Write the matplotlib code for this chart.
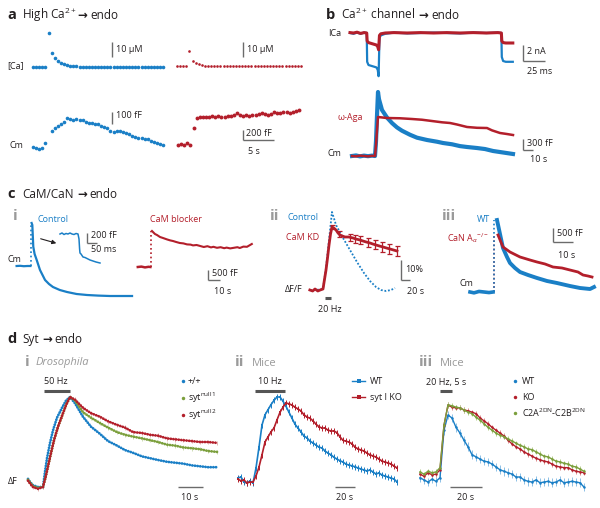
import numpy as np
import matplotlib
matplotlib.use('Agg')
import matplotlib.pyplot as plt

plt.rcParams['font.family'] = ['Open Sans', 'DejaVu Sans']
plt.rcParams['mathtext.fontset'] = 'custom'
plt.rcParams['mathtext.rm'] = 'Open Sans'
plt.rcParams['mathtext.it'] = 'Open Sans:italic'
plt.rcParams['mathtext.bf'] = 'Open Sans:bold'

W, H = 600, 508
BLUE = '#1a7fc6'
RED = '#b31f2b'
GREEN = '#7b9f3c'
GREY = '#9a9a9a'
BAR = '#6b6b6b'

# ---------------- data ----------------
# a : high Ca -> endo  (samples every 0.5 s)
a_dt = 0.5
a_ca_blue = [0.5, 0.4, 0.5, 0.4, 0.5, 23.0, 9.8, 6.5, 4.5, 3.2, 2.2, 1.6, 1.2, 1.0, 0.9, 0.8,
             0.7, 0.7, 0.6, 0.6, 0.6, 0.5, 0.6, 0.5, 0.5, 0.6, 0.5, 0.5, 0.5, 0.6, 0.5, 0.5,
             0.5, 0.4, 0.5, 0.5, 0.6, 0.5, 0.5, 0.4, 0.5, 0.5, 0.6]
a_cm_blue = [8, 0, -8, 0, 42, np.nan, 142, 167, 183, 200, 217, 246, 242, 233, 242, 233, 233,
             217, 208, 208, 200, 200, 183, 171, 167, 142, 133, 142, 142, 133, 125, 117, 100,
             92, 83, 83, 75, 75, 58, 50, 42, 33, 25]
a_ca_red = [1.2, 1.1, 1.2, 1.2, 11.2, 4.5, 3.2, 2.2, 1.8, 1.5, 1.4, 1.3, 1.2, 1.2, 1.3, 1.2,
            1.2, 1.1, 1.2, 1.2, 1.2, 1.1, 1.2, 1.2, 1.2, 1.1, 1.2, 1.2, 1.2, 1.2, 1.1, 1.2,
            1.2, 1.1, 1.2, 1.2, 1.2, 1.1, 1.2, 1.2, 1.1]
a_cm_red = [0, 20, 0, 40, 0, 340, 540, 560, 555, 570, 560, 575, 565, 580, 570, 560, 575, 590,
            600, 640, 610, 590, 600, 585, 610, 600, 620, 640, 615, 600, 630, 660, 650, 640,
            670, 660, 650, 670, 680, 700]

# b : Ca channel -> endo
b_ica_t = [0, 4, 8, 12, 16, 19, 19.5, 21, 24, 27, 30, 31.5, 32.5, 33.5, 35, 40, 50, 65, 80,
           95, 110, 125, 140, 155, 168, 172, 172.5, 174, 177, 181, 185]
b_ica_blue = [0, -0.1, 0.05, -0.1, 0.05, 0, -3.6, -4.0, -4.1, -4.2, -4.3, -4.6, -5.4, -0.6,
              -0.3, -0.1, 0.05, -0.05, 0, 0.05, 0, -0.05, 0.05, 0, 0.05, 0, -3.0, -3.5, -3.6,
              -3.6, -3.6]
b_ica_red = [0.05, 0, 0.1, -0.05, 0.05, 0, -1.0, -1.2, -1.3, -1.4, -1.5, -1.7, -2.1, -0.3,
             -0.1, 0, 0.05, 0, 0.05, 0, 0.05, 0, 0.05, 0, 0.05, 0, -1.0, -1.2, -1.25, -1.25,
             -1.25]
b_cm_blue_t = [0, 4, 8, 12, 16, 20, 23, 24, 25, 26, 27, 30, 35, 40, 45, 50, 58, 65, 75, 85,
               91, 100, 108, 115, 125, 133, 141, 150, 161]
b_cm_blue = [0, 15, -10, 10, -5, 10, 0, 400, 1100, 1747, 1550, 1256, 1050, 900, 780, 690, 580,
             500, 437, 390, 355, 320, 270, 246, 218, 190, 137, 100, 55]
b_cm_red_t = [0, 4, 8, 12, 16, 20, 23, 24, 25, 26, 35, 48, 60, 70, 80, 90, 98, 105, 115, 125,
              135, 140, 148, 155, 161]
b_cm_red = [0, -10, 10, 0, -10, 5, 0, 300, 700, 1065, 1037, 1030, 1010, 990, 955, 920, 901,
            860, 792, 770, 764, 700, 628, 600, 573]

# c i : CaM blocker
ci_blue_base_t = [-12, -9, -6, -3, -0.5]
ci_blue_base = [0, 10, -10, 0, 0]
ci_blue_t = [0.5, 1.1, 1.9, 3, 4.75, 7.5, 11.7, 15, 18.3, 24, 30, 38, 46.7, 56, 65.8, 75, 84.2]
ci_blue = [2150, 2050, 965, 600, 300, -200, -700, -900, -1050, -1200, -1300, -1400, -1450,
           -1480, -1500, -1500, -1500]
ci_inset_t = [-95, -85, -75, -65, -55, -45, -35, -25, -15, -5, 0, 3, 5, 10, 20, 30, 40, 55,
              70, 85, 105]
ci_inset = [0, 20, -10, 10, 0, 20, 0, -10, 10, 0, -100, -300, -380, -400, -460, -470, -490,
            -520, -540, -560, -580]
ci_red_base_t = [-11, -8, -5, -2, -0.5]
ci_red_base = [0, 20, -20, 10, 0]
ci_red_t = [0.8, 3.3, 5, 7.5, 10, 13.3, 16, 18.3, 21, 24, 27, 30, 33, 35, 38, 41, 44, 47, 50,
            52, 55, 58, 61, 63, 66, 69, 72, 74, 77, 80, 82, 84]
ci_red = [1800, 1650, 1600, 1500, 1450, 1380, 1330, 1300, 1250, 1200, 1180, 1130, 1120, 1080,
          1100, 1050, 1000, 1040, 980, 1010, 960, 990, 940, 970, 930, 960, 990, 950, 1020,
          1010, 1080, 1150]

# c ii : CaM KD (dF/F, %)
cii_red_t = [-28, -22, -17, -11, -6, 0, 3, 6.4, 9.6, 12.8, 16, 19.1, 23, 27.7, 32, 36, 41,
             46.8, 55, 63.8, 70, 78.7, 85, 92, 100, 106, 112.8, 120, 127.7, 135, 142.6, 150,
             157.4]
cii_red = [0, -0.5, 0.5, -0.5, 0, 0.5, 5, 10, 16, 22.5, 28, 31.5, 31, 30, 28.5, 27.5, 27,
           26.5, 26.5, 26, 25.5, 25, 24.5, 24, 23.5, 23, 22.5, 22, 21.5, 21, 20.5, 20, 19.5]
cii_err_t = [19, 34, 57, 68, 79, 96, 111, 126, 141, 157]
cii_err_mean = [31.5, 28, 26.3, 25.5, 25, 23.7, 22.6, 21.6, 20.5, 19.5]
cii_err = [1.0, 1.5, 1.8, 2.0, 2.0, 2.2, 2.2, 2.4, 2.4, 2.5]
cii_blue_t = [-28, -15, 0, 6.4, 12.8, 19.1, 27.7, 42.6, 57.4, 72.3, 87.2, 100, 112.8, 123.4,
              134, 144.7, 153.2]
cii_blue = [0, 0, 0.5, 11, 25, 39, 32.5, 26, 20, 14, 8.5, 4.5, 1.5, 0, -0.5, 0, 1]

# c iii : CaN KO (Cm, fF)
ciii_blue_t = [-12, -10, -7.5, -5, -2.5, -0.5, 1.5, 3, 4.5, 6.5, 8, 10.5, 13, 17, 21.5, 26.5,
               31.5, 38, 43, 48, 50]
ciii_blue = [0, -30, 20, 0, -20, 0, 2570, 2070, 1570, 1250, 1035, 857, 714, 607, 500, 393,
             321, 214, 143, 107, 178]
ciii_red_t = [2, 4.5, 8, 13, 18, 21.5, 25.5, 29.5, 34, 38, 42, 44.5, 47, 49]
ciii_red = [2035, 1607, 1428, 1250, 1142, 1071, 1000, 892, 857, 785, 714, 607, 571, 535]

# d i : Drosophila (normalised dF)
di_blue_t = [-6, -5.2, -4, -2, 0, 0.8, 1.6, 2.8, 4, 5.6, 7.6, 9.2, 10.8, 12.8, 16, 19.2, 22.8,
             26, 29.6, 32.8, 36, 39.6, 42.8, 46, 49.6, 52.8, 56, 59.6, 62.8, 66, 69.6]
di_blue = [0.09, 0.055, 0.02, 0, 0, 0.17, 0.32, 0.49, 0.63, 0.77, 0.88, 0.96, 1.0, 0.93, 0.78,
           0.67, 0.59, 0.51, 0.46, 0.41, 0.38, 0.34, 0.32, 0.30, 0.28, 0.27, 0.26, 0.24, 0.23,
           0.22, 0.22]
di_mut_t = [-6, -5.2, -4, -2, 0, 1.2, 2.8, 4.4, 6, 7.6, 9.2, 10.8, 12.8, 16, 19.2, 22.8, 26,
            29.6, 32.8, 36, 39.6, 42.8, 46, 49.6, 52.8, 56, 59.6, 62.8, 66, 69.6]
di_red = [0.07, 0.04, 0.0, -0.02, 0, 0.13, 0.33, 0.52, 0.67, 0.79, 0.91, 1.0, 0.97, 0.88,
          0.82, 0.78, 0.73, 0.69, 0.66, 0.61, 0.60, 0.58, 0.57, 0.54, 0.53, 0.52, 0.51, 0.50,
          0.50, 0.49]
di_green = [0.08, 0.05, 0.01, -0.01, 0, 0.13, 0.33, 0.52, 0.67, 0.79, 0.91, 1.0, 0.96, 0.83,
            0.77, 0.71, 0.66, 0.61, 0.58, 0.56, 0.54, 0.52, 0.50, 0.47, 0.46, 0.44, 0.43,
            0.42, 0.40, 0.39]
di_sem = 0.025

# d ii : mice, syt I KO (normalised dF, 3 s bins)
dii_t = np.arange(-17, 143, 3)
dii_blue = [0.047, 0.059, 0, -0.012, 0.012, -0.012, 0.165, 0.41, 0.67, 0.79, 0.85, 0.91, 0.96,
            1.0, 1.0, 0.95, 0.89, 0.82, 0.75, 0.68, 0.635, 0.59, 0.54, 0.52, 0.48, 0.46,
            0.435, 0.41, 0.40, 0.365, 0.34, 0.32, 0.29, 0.27, 0.25, 0.235, 0.21, 0.2, 0.19,
            0.18, 0.165, 0.153, 0.141, 0.13, 0.141, 0.118, 0.094, 0.106, 0.082, 0.07, 0.059,
            0.047, 0.035, 0]
dii_red = [0.035, 0.012, 0.024, -0.012, 0, 0, 0.07, 0.176, 0.32, 0.47, 0.53, 0.59, 0.635,
           0.73, 0.82, 0.88, 0.93, 0.92, 0.905, 0.88, 0.86, 0.835, 0.79, 0.765, 0.75, 0.72,
           0.68, 0.65, 0.635, 0.635, 0.61, 0.6, 0.6, 0.58, 0.53, 0.49, 0.48, 0.47, 0.45,
           0.41, 0.39, 0.376, 0.365, 0.34, 0.32, 0.306, 0.294, 0.27, 0.247, 0.235, 0.224,
           0.212, 0.188, 0.165]
dii_sem = 0.035

# d iii : mice, C2A/C2B mutant (% of peak, 2.5 s bins)
diii_t = np.arange(-12.5, 90.1, 2.5)
diii_blue = [-1, -4, -7, -3, -6, -1, 65, 86, 82, 69, 61, 51, 42, 31, 28, 25, 22, 21, 18, 14,
             10, 8, 6, 4, 0, 0, -4, -6, -7, -4, -8, -7, -6, -8, -7, -4, -8, -7, -6, -7, -8,
             -14]
diii_red = [4, 1, 6, 3, 4, 10, 72, 100, 97, 96, 96, 93, 92, 90, 88, 82, 78, 74, 69, 65, 61,
            57, 51, 46, 42, 39, 35, 32, 29, 26, 24, 22, 21, 18, 15, 14, 13, 13, 10, 8, 7, 6]
diii_green = [7, 4, 8, 6, 7, 13, 72, 100, 99, 97, 96, 93, 90, 88, 83, 79, 74, 69, 65, 61, 58,
              56, 53, 50, 47, 44, 42, 39, 38, 35, 32, 29, 28, 25, 22, 21, 19, 18, 15, 14, 11,
              8]
diii_sem = 6

# ---------------- figure ----------------
fig = plt.figure(figsize=(6, 5.08), dpi=100)


def mk(x0, sx, y0, sy, box):
    l, r, t, b = box
    ax = fig.add_axes([l / W, 1 - b / H, (r - l) / W, (b - t) / H])
    ax.set_xlim((l - x0) / sx, (r - x0) / sx)
    ax.set_ylim((y0 - b) / sy, (y0 - t) / sy)
    ax.axis('off')
    return ax


def sbar(ax, x, y, dx=None, dy=None, color=BAR, lw=1.0):
    if dy is not None:
        ax.plot([x, x], [y, y + dy], color=color, lw=lw, solid_capstyle='butt')
    if dx is not None:
        ax.plot([x, x + dx], [y, y], color=color, lw=lw, solid_capstyle='butt')


def stim(ax, t0, t1, v):
    ax.plot([t0, t1], [v, v], color='#555555', lw=2.2, solid_capstyle='butt')


# ---- panel a
A1 = mk(33, 6.2, 67.75, 1.5, (25, 170, 25, 75))
A2 = mk(33, 6.2, 148, 0.12, (25, 170, 100, 160))
A3 = mk(177, 6.2, 67.75, 1.5, (172, 305, 25, 75))
A4 = mk(178, 6.2, 145, 0.05, (172, 305, 100, 160))
A1.plot(np.arange(len(a_ca_blue)) * a_dt, a_ca_blue, 'o', color=BLUE, ms=2.6, mew=0)
A2.plot(np.arange(len(a_cm_blue)) * a_dt, a_cm_blue, 'o', color=BLUE, ms=2.6, mew=0)
A3.plot(np.arange(len(a_ca_red)) * a_dt, a_ca_red, 'o', color=RED, ms=1.9, mew=0)
A4.plot(np.arange(len(a_cm_red)) * a_dt, a_cm_red, 'o', color=RED, ms=2.8, mew=0)
sbar(A1, 12.7, 7.2, dy=10)
sbar(A3, 10.6, 7.2, dy=10)
sbar(A2, 12.7, 200, dy=100)
sbar(A4, 10.5, 100, dx=5, dy=200)

# ---- panel b
B1 = mk(350, 0.88, 33, 8, (340, 555, 25, 85))
B2 = mk(352, 1.0, 156, 1 / 27.3, (340, 555, 85, 165))
B1.plot(b_ica_t, b_ica_blue, color=BLUE, lw=1.6)
B1.plot(b_ica_t, b_ica_red, color=RED, lw=2.2)
sbar(B1, 196.6, -3.5, dx=25, dy=2)
B2.plot(b_cm_blue_t, b_cm_blue, color=BLUE, lw=3.0)
B2.plot(b_cm_red_t, b_cm_red, color=RED, lw=1.8)
sbar(B2, 171, 164, dx=10, dy=300)

# ---- panel c i
C1 = mk(31, 1.2, 266, 0.02, (10, 140, 215, 305))
C1.plot(ci_blue_base_t, ci_blue_base, color=BLUE, lw=1.6)
C1.plot([0, 0], [ci_blue_base[-1], ci_blue[0]], color=BLUE, lw=1.2, ls=(0, (1, 1.6)))
C1.plot(ci_blue_t, ci_blue, color=BLUE, lw=1.6)
CI = mk(79, 0.2, 234, 0.05, (55, 105, 225, 270))
CI.plot(ci_inset_t, ci_inset, color=BLUE, lw=1.1)
sbar(CI, 40, -180, dx=50, dy=200)
C2 = mk(151, 1.2, 267, 0.02, (130, 260, 215, 305))
C2.plot(ci_red_base_t, ci_red_base, color=RED, lw=1.8)
C2.plot([0, 0], [ci_red_base[-1], ci_red[0]], color=RED, lw=1.2, ls=(0, (1, 1.6)))
C2.plot(ci_red_t, ci_red, color=RED, lw=1.5)
sbar(C2, 47.5, -650, dx=10, dy=500)

# ---- panel c ii
C3 = mk(323, 0.47, 290, 2, (305, 420, 205, 315))
C3.plot(cii_blue_t, cii_blue, color=BLUE, lw=1.3, ls=(0, (1, 1)))
C3.plot(cii_red_t, cii_red, color=RED, lw=2.0)
C3.errorbar(cii_err_t, cii_err_mean, yerr=cii_err, fmt='none', ecolor=RED, elinewidth=0.9,
            capsize=1.8, capthick=0.9)
sbar(C3, 166, 5, dx=20, dy=10)
stim(C3, 4, 18, -4)

# ---- panel c iii
C4 = mk(494, 2.0, 292, 1 / 35.7, (465, 600, 205, 305))
C4.plot([0.2, 0.2], [0, ciii_red[0]], color=RED, lw=1.2, ls=(0, (1, 1.5)))
C4.plot([-0.2, -0.2], [0, ciii_blue[6]], color=BLUE, lw=1.2, ls=(0, (1, 1.5)))
C4.plot(ciii_blue_t[:6], ciii_blue[:6], color=BLUE, lw=2.6)
C4.plot(ciii_blue_t[6:], ciii_blue[6:], color=BLUE, lw=2.8)
C4.plot(ciii_red_t, ciii_red, color=RED, lw=2.0)
sbar(C4, 29.5, 1785, dx=10, dy=500)

# ---- panel d i
D1 = mk(43, 2.5, 487, 90, (20, 225, 385, 500))
dot = dict(lw=2.0, ls=(0, (0.05, 0.9)), dash_capstyle='round')
D1.errorbar(di_mut_t, di_green, yerr=di_sem, fmt='none', ecolor='#c5d6a6', elinewidth=0.6)
D1.errorbar(di_mut_t, di_red, yerr=di_sem, fmt='none', ecolor='#e0a7a7', elinewidth=0.6)
D1.plot(di_blue_t, di_blue, color=BLUE, **dot)
D1.plot(di_mut_t, di_green, color=GREEN, **dot)
D1.plot(di_mut_t, di_red, color=RED, **dot)
stim(D1, 0.4, 10.8, 1.067)
sbar(D1, 54, 0, dx=10)

# ---- panel d ii
D2 = mk(255, 1.0, 482, 85, (230, 410, 385, 500))
D2.errorbar(dii_t, dii_blue, yerr=dii_sem, color=BLUE, lw=1.2, marker='s', ms=2.0, mew=0,
            elinewidth=0.7, capsize=1.2, capthick=0.7)
D2.errorbar(dii_t, dii_red, yerr=dii_sem, color=RED, lw=1.2, marker='s', ms=2.0, mew=0,
            elinewidth=0.7, capsize=1.2, capthick=0.7)
stim(D2, 0, 30, 1.07)
sbar(D2, 80, -0.06, dx=20)

# ---- panel d iii
D3 = mk(440, 1.6, 477, 0.72, (415, 600, 385, 500))
D3.errorbar(diii_t, diii_blue, yerr=diii_sem, color=BLUE, lw=1.0, marker='o', ms=1.8, mew=0,
            ecolor='#8cc0e6', elinewidth=0.7, capsize=1.0)
D3.errorbar(diii_t, diii_red, yerr=diii_sem * 0.6, color=RED, lw=1.0, marker='o', ms=1.8,
            mew=0, ecolor='#dc8c8c', elinewidth=0.7, capsize=1.0)
D3.errorbar(diii_t, diii_green, yerr=diii_sem * 0.6, color=GREEN, lw=1.0, marker='o',
            ms=1.8, mew=0, ecolor='#b3cc8a', elinewidth=0.7, capsize=1.0)
stim(D3, 0, 7.5, 119.4)
sbar(D3, 6.25, -14, dx=20)

for ax in fig.axes:
    for art in ax.get_children():
        try:
            art.set_clip_on(False)
        except Exception:
            pass

# ---- overlay texts
ov = fig.add_axes([0, 0, 1, 1])
ov.set_xlim(0, W)
ov.set_ylim(H, 0)
ov.axis('off')
ov.patch.set_alpha(0)

INK = '#231f20'


def T(x, y, s, size=6.5, color=INK, ha='left', **kw):
    return ov.text(x, y, s, fontsize=size, color=color, ha=ha, va='center', **kw)


def NUM(x, y, s):
    T(x, y, s, size=11, color=GREY, fontweight='bold')


def title(x, y, letter, first, last, gap=2.5):
    # y is the text baseline in pixels
    ov.text(x, y, letter, fontsize=10.5, fontweight='bold', color=INK, va='baseline')
    t1 = ov.text(x + 15, y, first, fontsize=8.5, color=INK, va='baseline')
    t2 = ov.annotate('→', xy=(1, y), xycoords=(t1, 'data'), xytext=(gap, 0),
                     textcoords='offset points', fontsize=8.5, fontweight='bold',
                     family='DejaVu Sans', color=INK, va='baseline')
    ov.annotate(last, xy=(1, y), xycoords=(t2, 'data'), xytext=(2, 0),
                textcoords='offset points', fontsize=8.5, color=INK, va='baseline')


# a
title(7, 19, 'a', 'High Ca$^{2+}$', 'endo', gap=0.5)
T(7, 66, '[Ca]')
T(9, 146, 'Cm')
T(116, 50, '10 µM')
T(247, 50, '10 µM')
T(116, 116, '100 fF')
T(246, 134, '200 fF')
T(248, 152, '5 s')
# b
title(326, 19, 'b', 'Ca$^{2+}$ channel', 'endo')
T(328, 34, 'ICa')
T(338, 117, 'ω-Aga', color=RED)
T(327, 154, 'Cm')
T(527, 51, '2 nA')
T(527, 71, '25 ms')
T(527, 143, '300 fF')
T(530, 159, '10 s')
# c
title(7, 198, 'c', 'CaM/CaN', 'endo')
NUM(13, 216, 'i')
T(37, 219, 'Control', color=BLUE)
T(150, 219, 'CaM blocker', color=RED)
T(8, 259, 'Cm')
T(91, 236, '200 fF')
T(91, 250, '50 ms')
T(212, 273, '500 fF')
T(214, 292, '10 s')
ov.annotate('', xy=(59, 244), xytext=(38, 238),
            arrowprops=dict(arrowstyle='-|>', color=INK, lw=0.8, mutation_scale=6))
NUM(270, 216, 'ii')
T(288, 218, 'Control', color=BLUE)
T(286, 238, 'CaM KD', color=RED)
T(285, 290, 'ΔF/F')
T(405, 269, '10%')
T(407, 291, '20 s')
T(330, 309, '20 Hz', ha='center')
NUM(442, 216, 'iii')
T(477, 219, 'WT', color=BLUE)
T(447, 238, r'CaN A$_{\alpha}$$^{-/-}$', color=RED)
T(459, 283, 'Cm')
T(557, 234, '500 fF')
T(558, 255, '10 s')
# d
title(7, 343, 'd', 'Syt', 'endo')
NUM(25, 362, 'i')
T(36, 363, 'Drosophila', size=8, color=GREY, style='italic')
T(56, 382, '50 Hz', ha='center')
T(8, 482, 'ΔF')
T(190, 497, '10 s', ha='center')
for yy, cc, lab in [(381, BLUE, '+/+'), (398, GREEN, r'syt$^{\mathrm{null1}}$'),
                    (415, RED, r'syt$^{\mathrm{null2}}$')]:
    ov.plot([183], [yy], 'o', color=cc, ms=2.5, mew=0)
    T(188, yy, lab)
NUM(235, 362, 'ii')
T(252, 363, 'Mice', size=8, color=GREY)
T(270, 382, '10 Hz', ha='center')
T(345, 497, '20 s', ha='center')
for yy, cc, lab in [(381, BLUE, 'WT'), (397, RED, 'syt I KO')]:
    ov.plot([352, 365], [yy, yy], color=cc, lw=1.0)
    ov.plot([358.5], [yy], 's', color=cc, ms=2.2, mew=0)
    T(370, yy, lab)
NUM(419, 362, 'iii')
T(440, 363, 'Mice', size=8, color=GREY)
T(446, 382, '20 Hz, 5 s', ha='center')
T(466, 498, '20 s', ha='center')
for yy, cc, lab in [(381, BLUE, 'WT'), (397, RED, 'KO'),
                    (413, GREEN, r'C2A$^{\mathrm{2DN}}$-C2B$^{\mathrm{2DN}}$')]:
    ov.plot([515], [yy], 'o', color=cc, ms=2.5, mew=0)
    T(522, yy, lab)

fig.savefig('out.png', dpi=100)
